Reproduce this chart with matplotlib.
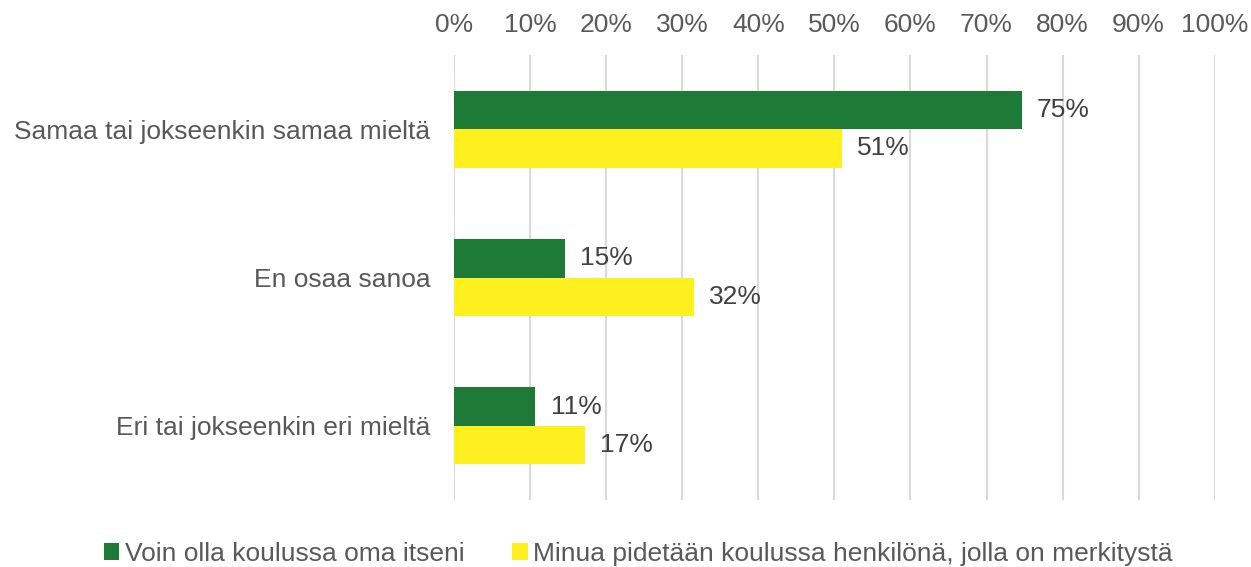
import matplotlib.pyplot as plt
import numpy as np

# datos
categorias = ['Samaa tai jokseenkin samaa mieltä', 'En osaa sanoa', 'Eri tai jokseenkin eri mieltä']
oma_itseni = [74.6, 14.6, 10.7]
merkitysta = [51.0, 31.5, 17.2]
series = ['Voin olla koulussa oma itseni', 'Minua pidetään koulussa henkilönä, jolla on merkitystä']

plt.rcParams['font.family'] = ['Liberation Sans', 'DejaVu Sans']

fig = plt.figure(figsize=(12.51, 5.67), dpi=100)
ax = fig.add_axes([0.363, 0.118, 0.608, 0.785])

y = np.arange(len(categorias))
h = 0.26
b1 = ax.barh(y - h / 2, oma_itseni, height=h, color='#1e7b37', label=series[0])
b2 = ax.barh(y + h / 2, merkitysta, height=h, color='#fdf01e', label=series[1])

# etiquetas de las barras
for bars, vals in [(b1, oma_itseni), (b2, merkitysta)]:
    for bar, v in zip(bars, vals):
        ax.text(v + 2, bar.get_y() + bar.get_height() / 2, f'{v:.0f}%',
                va='center', ha='left', fontsize=19, color='#404040')

ax.set_xlim(0, 100)
ax.set_ylim(2.5, -0.5)
ax.set_xticks(range(0, 101, 10))
ax.set_xticklabels([f'{t}%' for t in range(0, 101, 10)])
ax.xaxis.tick_top()
ax.set_yticks(y)
ax.set_yticklabels(categorias)
ax.tick_params(axis='both', length=0, labelsize=19, colors='#595959')
ax.tick_params(axis='y', pad=17)
ax.tick_params(axis='x', pad=13)
ax.grid(axis='x', color='#d9d9d9', linewidth=1.5)
ax.set_axisbelow(True)
for s in ax.spines.values():
    s.set_visible(False)

fig.legend(loc='lower center', bbox_to_anchor=(0.51, -0.04), ncol=2, frameon=False,
           fontsize=19, labelcolor='#595959', handlelength=0.6, handleheight=0.6,
           handletextpad=0.2, columnspacing=1.8)

plt.savefig('out.png', dpi=100)
